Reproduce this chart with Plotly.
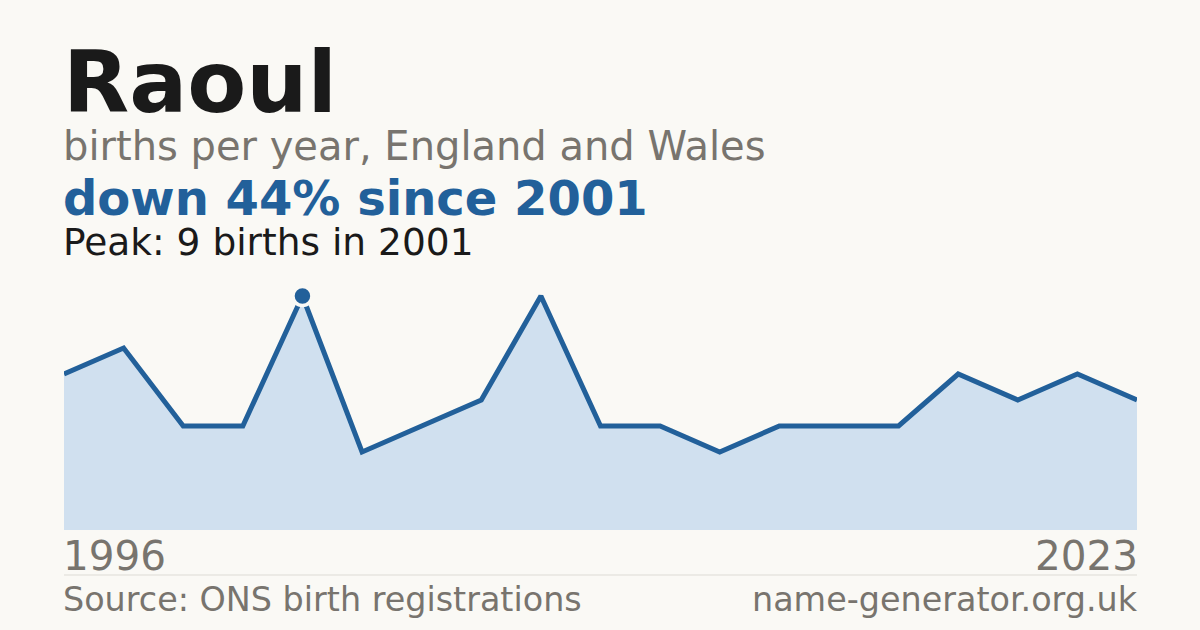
import plotly.graph_objects as go

# data
years = ["1996", "1997", "1998", "1999", "2001", "2003", "2005", "2007", "2008", "2009",
         "2010", "2012", "2014", "2016", "2017", "2019", "2020", "2022", "2023"]
births = [6, 7, 4, 4, 9, 3, 4, 5, 9, 4, 4, 3, 4, 4, 4, 6, 5, 6, 5]
peak_year = "2001"
peak_value = 9

W, H = 1200, 630
BG = "#faf9f5"
BLUE = "#22609a"
GREY = "#78746e"
FONT = "DejaVu Sans"


def px(x):
    return x / W


def py(y):
    return 1 - y / H


fig = go.Figure()

fig.add_trace(go.Scatter(
    x=years, y=births,
    mode="lines",
    line=dict(color=BLUE, width=5),
    fill="tozeroy",
    fillcolor="#d0e0ef",
    hoverinfo="skip",
))

fig.add_trace(go.Scatter(
    x=[peak_year], y=[peak_value],
    mode="markers",
    marker=dict(color=BLUE, size=19, line=dict(color=BG, width=3.5)),
    cliponaxis=False,
    hoverinfo="skip",
))

texts = [
    # text, x, y(center px), size, color, bold, anchor
    ("Raoul", 61, 82, 86, "#1a1a1a", True, "left"),
    ("births per year, England and Wales", 61, 146, 40, GREY, False, "left"),
    ("down 44% since 2001", 61, 198, 48, BLUE, True, "left"),
    ("Peak: 9 births in 2001", 61, 242, 37.5, "#1a1a1a", False, "left"),
    (years[0], 61, 556, 40.5, GREY, False, "left"),
    (years[-1], 1140, 556, 40.5, GREY, False, "right"),
    ("Source: ONS birth registrations", 61, 599, 33.4, GREY, False, "left"),
    ("name-generator.org.uk", 1140, 599, 33.4, GREY, False, "right"),
]
for t, x, y, s, c, b, a in texts:
    fig.add_annotation(
        text="<b>%s</b>" % t if b else t,
        x=px(x), y=py(y), xref="paper", yref="paper",
        xanchor=a, yanchor="middle", showarrow=False,
        font=dict(family=FONT, size=s, color=c),
    )

# thin rule between the year labels and the footer
fig.add_shape(type="line", xref="paper", yref="paper",
              x0=px(64), x1=px(1137), y0=py(575), y1=py(575),
              line=dict(color="#dddbd5", width=1))

fig.update_layout(
    width=W, height=H,
    paper_bgcolor=BG, plot_bgcolor=BG,
    margin=dict(l=0, r=0, t=0, b=0),
    showlegend=False,
    hovermode=False,
    xaxis=dict(domain=[px(64), px(1137)], range=[0, len(years) - 1],
               visible=False, fixedrange=True),
    yaxis=dict(domain=[py(530), py(270)], range=[0, 10],
               visible=False, fixedrange=True),
)

# drop the default page margin so the figure fills the window
fig.write_html("out.html", config={"displayModeBar": False},
               post_script="document.body.style.margin='0';"
               "document.body.style.background='%s';" % BG)
